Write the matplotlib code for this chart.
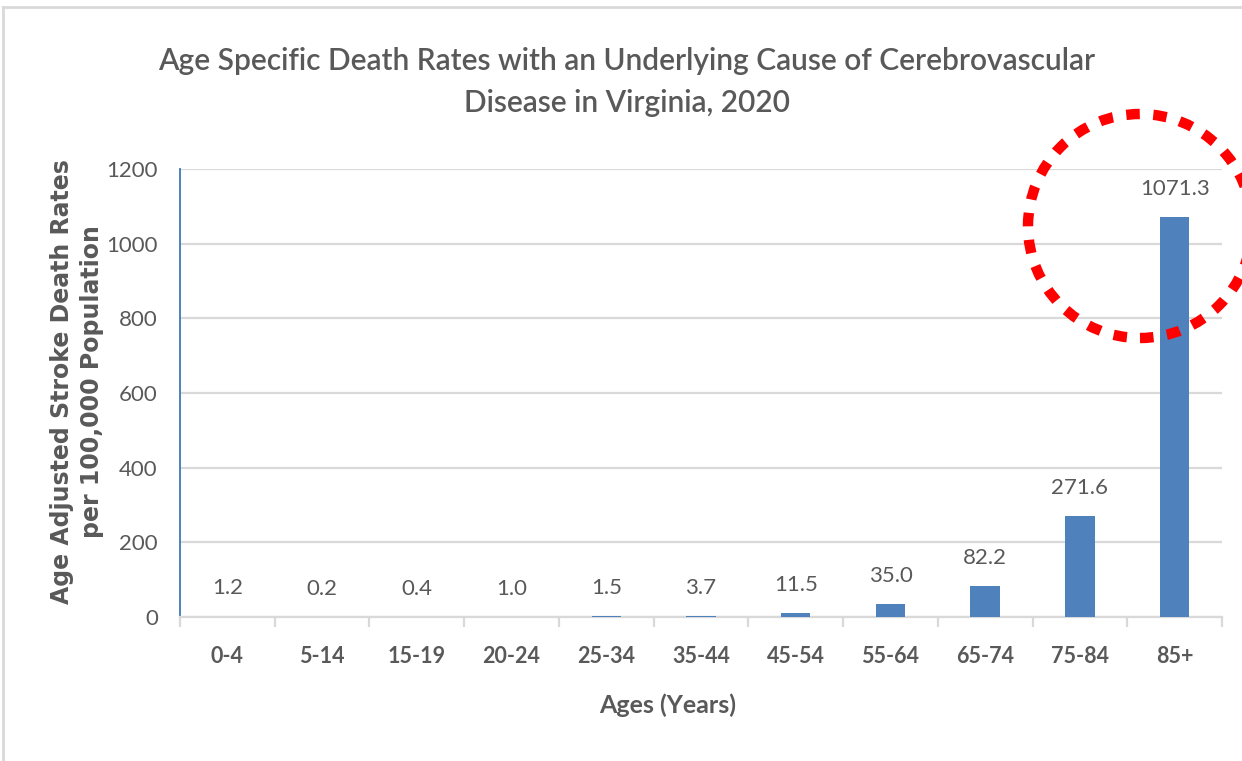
import matplotlib
matplotlib.use("Agg")
import matplotlib.pyplot as plt
from matplotlib.patches import Ellipse
from matplotlib.lines import Line2D

# Data
age_groups = ["0-4", "5-14", "15-19", "20-24", "25-34", "35-44",
              "45-54", "55-64", "65-74", "75-84", "85+"]
death_rates = [1.2, 0.2, 0.4, 1.0, 1.5, 3.7, 11.5, 35.0, 82.2, 271.6, 1071.3]
y_ticks = [0, 200, 400, 600, 800, 1000, 1200]

title = ("Age Specific Death Rates with an Underlying Cause of Cerebrovascular\n"
         "Disease in Virginia, 2020")
x_label = "Ages (Years)"
y_label = "Age Adjusted Stroke Death Rates\nper 100,000 Population"

TEXT = "#595959"
BAR = "#4F81BD"
GRID = "#D9D9D9"
FONT = ["Lato", "DejaVu Sans"]

plt.rcParams["font.family"] = FONT

W, H = 1242, 761
fig = plt.figure(figsize=(W / 100, H / 100), dpi=100)
fig.patch.set_facecolor("white")

# Plot area in pixel coordinates
left, right, top, bottom = 180, 1222, 169, 617
ax = fig.add_axes([left / W, 1 - bottom / H, (right - left) / W, (bottom - top) / H])

x = list(range(len(age_groups)))
ax.bar(x, death_rates, width=0.31, color=BAR, zorder=3)

ax.set_xlim(-0.5, len(age_groups) - 0.5)
ax.set_ylim(0, 1200)
ax.set_yticks(y_ticks)
ax.set_yticklabels([str(v) for v in y_ticks], fontsize=16, color=TEXT)
ax.yaxis.grid(True, color=GRID, linewidth=1.6, zorder=0)
ax.set_axisbelow(True)

# Category ticks between groups, labels at centres
ax.set_xticks([i - 0.5 for i in range(len(age_groups) + 1)])
ax.set_xticklabels([])
ax.set_xticks(x, minor=True)
ax.set_xticklabels(age_groups, minor=True, fontsize=15.5, fontweight="bold", color=TEXT)
ax.tick_params(axis="x", which="major", length=7, width=1.6, color=GRID, direction="out")
ax.tick_params(axis="x", which="minor", length=0, pad=21)
ax.tick_params(axis="y", length=0, pad=16)

for side in ("top", "right"):
    ax.spines[side].set_visible(False)
ax.spines["bottom"].set_color(GRID)
ax.spines["bottom"].set_linewidth(1.6)
ax.spines["left"].set_color(BAR)
ax.spines["left"].set_linewidth(1.4)

# Value labels above bars
for xi, v in zip(x, death_rates):
    ax.annotate(f"{v:.1f}", (xi, v), xytext=(0, 13), textcoords="offset points",
                ha="center", va="bottom", fontsize=16, color=TEXT)

# Axis titles placed in figure pixels
fig.text(668 / W, 1 - 705 / H, x_label, ha="center", va="center", fontsize=18,
         fontweight="bold", color=TEXT)
fig.text(77 / W, 1 - 382 / H, y_label, ha="center", va="center", rotation=90,
         fontsize=17, fontweight="bold", color=TEXT, family="DejaVu Sans",
         linespacing=1.35)

fig.text(627 / W, 1 - 82 / H, title, ha="center", va="center", fontsize=21.5,
         color=TEXT, linespacing=1.65, fontweight="semibold")

# Outer chart border
fig.add_artist(Line2D([3 / W, 1], [1 - 7 / H, 1 - 7 / H], transform=fig.transFigure,
                      color=GRID, linewidth=2))
fig.add_artist(Line2D([3 / W, 3 / W], [0, 1 - 7 / H], transform=fig.transFigure,
                      color=GRID, linewidth=2))

# Highlight circle around the oldest group
circle = Ellipse((1140 / W, 1 - 226 / H), 224 / W, 224 / H, transform=fig.transFigure,
                 fill=False, edgecolor="#FF0000", linewidth=7.5,
                 linestyle=(0, (1.3, 1.3)), zorder=10)
fig.add_artist(circle)

fig.savefig("out.png", dpi=100, facecolor="white")
